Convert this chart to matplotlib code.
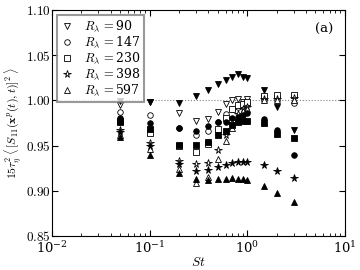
import numpy as np
import matplotlib
matplotlib.use('Agg')
import matplotlib.pyplot as plt
from matplotlib.ticker import FuncFormatter

plt.rcParams['font.family'] = 'serif'
plt.rcParams['font.serif'] = ['DejaVu Serif']
plt.rcParams['mathtext.fontset'] = 'cm'
plt.rcParams['xtick.direction'] = 'in'
plt.rcParams['ytick.direction'] = 'in'

# data
St = [0.05, 0.1, 0.2, 0.3, 0.4, 0.5, 0.6, 0.7, 0.8, 0.9, 1.0, 1.5, 2.0, 3.0]
Re = [90, 147, 230, 398, 597]
markers = ['v', 'o', 's', '*', '^']

open_90 = [0.995, 0.998, 0.986, 0.977, 0.979, 0.987, 0.996, 1.000, 1.001, 0.998, 1.001, 1.003, 1.002, 1.003]
open_147 = [0.987, 0.984, 0.970, 0.962, 0.966, 0.976, 0.985, 0.990, 0.993, 0.995, 0.996, 1.000, 1.000, 0.997]
open_230 = [0.977, 0.964, 0.950, 0.943, 0.952, 0.968, 0.980, 0.990, 0.995, 0.996, 0.998, 1.005, 1.006, 1.006]
open_398 = [0.967, 0.953, 0.933, 0.930, 0.931, 0.945, 0.962, 0.975, 0.985, 0.990, 0.993, 1.002, 1.001, 1.003]
open_597 = [0.962, 0.946, 0.924, 0.909, 0.915, 0.935, 0.955, 0.970, 0.980, 0.988, 0.990, 1.000, 1.000, 1.000]

fill_90 = [0.999, 0.998, 0.997, 1.005, 1.012, 1.018, 1.022, 1.026, 1.029, 1.026, 1.025, 1.012, 0.993, 0.967]
fill_147 = [0.981, 0.975, 0.969, 0.966, 0.972, 0.976, 0.976, 0.981, 0.982, 0.984, 0.986, 0.979, 0.967, 0.940]
fill_230 = [0.976, 0.968, 0.951, 0.951, 0.954, 0.962, 0.966, 0.973, 0.976, 0.977, 0.977, 0.975, 0.963, 0.958]
fill_398 = [0.965, 0.950, 0.930, 0.922, 0.923, 0.926, 0.929, 0.931, 0.932, 0.932, 0.932, 0.928, 0.922, 0.914]
fill_597 = [0.960, 0.940, 0.920, 0.913, 0.912, 0.913, 0.913, 0.914, 0.913, 0.913, 0.912, 0.905, 0.898, 0.888]

open_all = [open_90, open_147, open_230, open_398, open_597]
fill_all = [fill_90, fill_147, fill_230, fill_398, fill_597]

fig = plt.figure(figsize=(3.6, 2.7), dpi=100)
ax = fig.add_axes([0.144, 0.126, 0.814, 0.837])

for i in range(len(Re)):
    ms = 5.5 if markers[i] == '*' else 4
    ax.plot(St, open_all[i], markers[i], mfc='white', mec='black', mew=0.6, ms=ms,
            label=r'$R_\lambda\,=$' + '%d' % Re[i])
for i in range(len(Re)):
    ms = 5.5 if markers[i] == '*' else 4
    ax.plot(St, fill_all[i], markers[i], mfc='black', mec='black', mew=0.6, ms=ms)

ax.axhline(1.0, color='gray', ls=':', lw=0.8, zorder=0)

ax.set_xscale('log')
ax.set_xlim(1e-2, 1e1)
ax.set_ylim(0.85, 1.10)
ax.set_yticks([0.85, 0.90, 0.95, 1.00, 1.05, 1.10])
ax.yaxis.set_major_formatter(FuncFormatter(lambda v, p: '$%.2f$' % v))
ax.tick_params(which='both', top=True, right=True, labelsize=9.5)
ax.tick_params(axis='x', pad=3)
ax.tick_params(axis='y', pad=1)
ax.tick_params(which='major', length=4)
ax.tick_params(which='minor', length=2)

ax.set_xlabel(r'$St$', fontsize=9.5, labelpad=0)
ax.set_ylabel(r'$15\tau_\eta^2\,\langle\,[S_{11}(\mathbf{x}^p(t),t)]^2\,\rangle$', fontsize=8.5, labelpad=1)
ax.text(0.93, 0.9, '(a)', transform=ax.transAxes, fontsize=9.5, ha='center')

leg = ax.legend(loc='upper left', fontsize=9, numpoints=1, fancybox=False,
                handlelength=1.0, handletextpad=0.9, labelspacing=0.05,
                borderpad=0.3, borderaxespad=0.4)
leg.get_frame().set_edgecolor('gray')
leg.get_frame().set_linewidth(1.5)

fig.savefig('out.png', dpi=100)
